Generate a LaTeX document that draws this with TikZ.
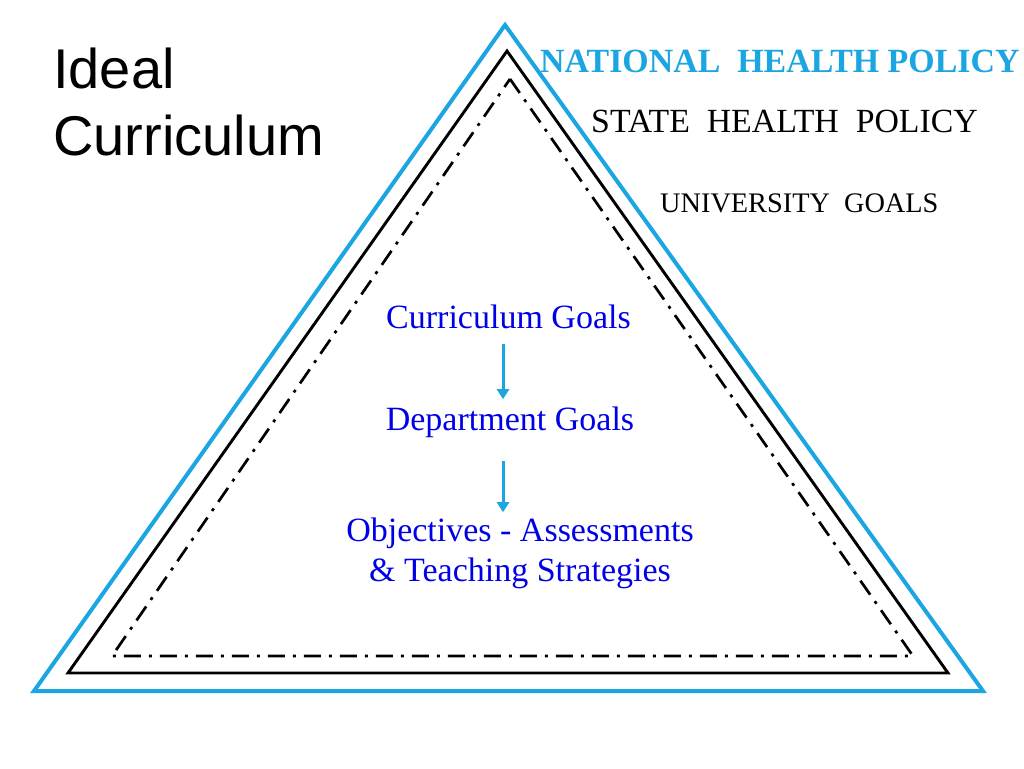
\documentclass[tikz,border=0pt]{standalone}
\usepackage{fontspec}
\setmainfont{Liberation Serif}
\newfontfamily\arialf{Liberation Sans}
\usetikzlibrary{arrows.meta}
\definecolor{skyb}{RGB}{27,165,225}
\definecolor{txtblue}{RGB}{0,0,230}
\tikzset{
  outertri/.style={draw=skyb,line width=4pt,line join=miter},
  middletri/.style={draw=black,line width=2.9pt,line join=miter},
  innertri/.style={draw=black,line width=2.7pt,dash pattern=on 17pt off 8pt on 3pt off 8pt},
  lbl/.style={inner sep=0pt,anchor=base},
  lblw/.style={inner sep=0pt,anchor=base west},
  arr/.style={draw=skyb,line width=3pt,-{Triangle[length=10pt,width=12pt]}},
}
\begin{document}
\begin{tikzpicture}[x=1pt,y=-1pt]
\useasboundingbox (0,0) rectangle (1024,768);
\fill[white] (0,0) rectangle (1024,768);
% triangles
\draw[outertri] (505,25) -- (983,691) -- (34,691) -- cycle;
\draw[middletri] (507,51) -- (948,673) -- (68,673) -- cycle;
\draw[innertri] (510,79) -- (913,656) -- (112,656) -- cycle;
% title
\node[lblw,font=\arialf\fontsize{56}{60}\selectfont] (t1) at (53,88) {Ideal};
\node[lblw,font=\arialf\fontsize{56}{60}\selectfont] (t2) at (53,155) {Curriculum};
% policy labels
\node[lblw,text=skyb,font=\bfseries\fontsize{33.9}{40}\selectfont] (nhp) at (540,72) {NATIONAL\ \ HEALTH POLICY};
\node[lblw,font=\fontsize{33.8}{40}\selectfont] (shp) at (591,132) {STATE\ \ HEALTH\ \ POLICY};
\node[lblw,font=\fontsize{28.3}{34}\selectfont] (ug) at (660,212) {UNIVERSITY\ \ GOALS};
% inner chain
\coordinate (ax) at (503,0);
\node[lbl,text=txtblue,font=\fontsize{34}{40}\selectfont] (cg) at (508.5,328) {Curriculum Goals};
\node[lbl,text=txtblue,font=\fontsize{34}{40}\selectfont] (dg) at (510,430) {Department Goals};
\node[lbl,text=txtblue,font=\fontsize{34}{40}\selectfont] (ob) at (520,541) {Objectives - Assessments};
\node[lbl,text=txtblue,font=\fontsize{34}{40}\selectfont] (ts) at (520,581) {\& Teaching Strategies};
\draw[arr,shorten <=15pt,shorten >=7pt] (cg.south -| ax) -- (dg.north -| ax);
\draw[arr,shorten <=24pt,shorten >=5pt] (dg.south -| ax) -- (ob.north -| ax);
\end{tikzpicture}
\end{document}
